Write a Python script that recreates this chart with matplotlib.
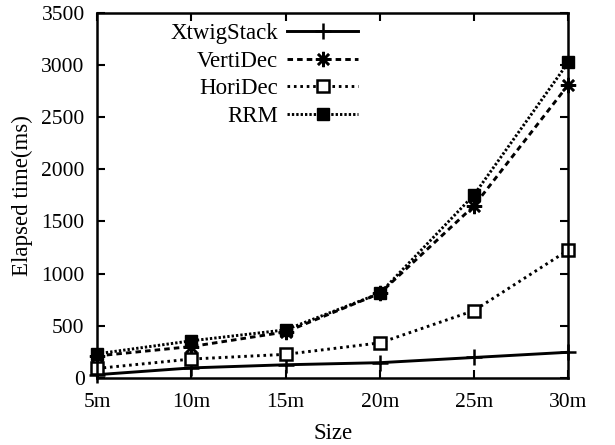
import matplotlib
matplotlib.use("Agg")
import matplotlib.pyplot as plt

sizes = [5, 10, 15, 20, 25, 30]
size_labels = ["5m", "10m", "15m", "20m", "25m", "30m"]

xtwigstack = [30, 95, 125, 145, 195, 245]
vertidec = [210, 300, 440, 810, 1650, 2810]
horidec = [90, 180, 225, 335, 645, 1225]
rrm = [230, 355, 460, 810, 1755, 3025]

plt.rcParams["font.family"] = ["Liberation Serif", "DejaVu Serif"]
plt.rcParams["font.size"] = 15.5

fig = plt.figure(figsize=(6.15, 4.45), dpi=100)
ax = fig.add_axes([0.158, 0.151, 0.766, 0.820])

common = dict(color="black", linewidth=2.1, clip_on=False)
ax.plot(sizes, xtwigstack, marker="+", markersize=11, markeredgewidth=1.8,
        linestyle="-", label="XtwigStack", **common)
ax.plot(sizes, vertidec, marker=(8, 2, 0), markersize=11, markeredgewidth=1.8,
        dashes=(1.9, 1.4), label="VertiDec", **common)
ax.plot(sizes, horidec, marker="s", markersize=8, markerfacecolor="white",
        markeredgewidth=1.8, dashes=(0.9, 1.3), label="HoriDec", **common)
ax.plot(sizes, rrm, marker="s", markersize=8, markerfacecolor="black",
        dashes=(0.8, 0.7), label="RRM", **common)

ax.set_xlim(5, 30)
ax.set_ylim(0, 3500)
ax.set_xticks(sizes)
ax.set_xticklabels(size_labels)
ax.set_yticks(range(0, 3501, 500))
ax.tick_params(direction="in", top=True, right=True, length=6, width=1.5)
ax.tick_params(axis="x", pad=11)
ax.tick_params(axis="y", pad=9)
for spine in ax.spines.values():
    spine.set_linewidth(1.8)

ax.set_xlabel("Size", fontsize=16.5, labelpad=8)
ax.set_ylabel("Elapsed time(ms)", fontsize=16.5, labelpad=6)

ax.legend(loc="upper right", bbox_to_anchor=(0.554, 0.972), frameon=False,
          markerfirst=False, fontsize=16.5, handlelength=3.1, labelspacing=0.28,
          handletextpad=0.4, borderpad=0, borderaxespad=0)

fig.savefig("out.png", dpi=100)
